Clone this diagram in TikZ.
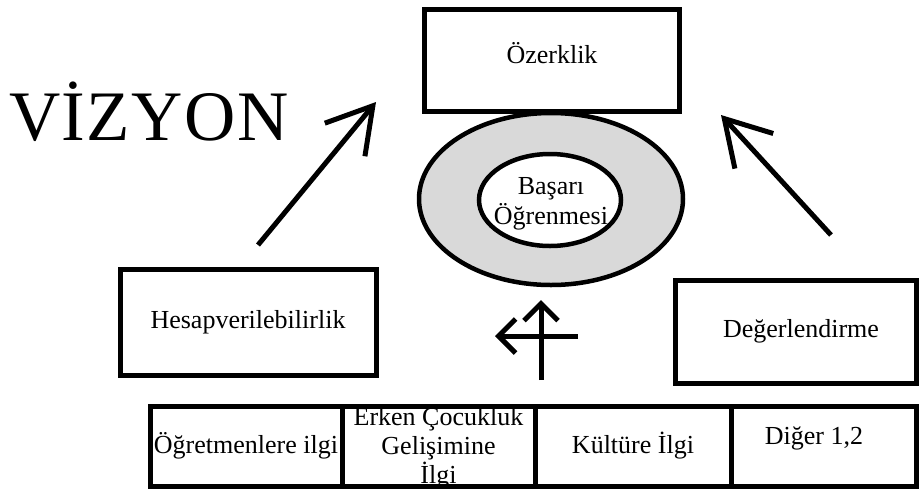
\documentclass[tikz,border=0pt]{standalone}
\usepackage{fontspec}
\setmainfont{Liberation Serif}
\usetikzlibrary{arrows.meta,shapes.geometric}
\definecolor{ringgray}{RGB}{217,217,217}

\tikzset{
  box/.style={draw, line width=5pt, rectangle, inner sep=0pt, align=center,
    font=\fontsize{26}{30}\selectfont},
  cell/.style={box, minimum height=80pt},
  ring/.style={draw, line width=4.5pt, ellipse, inner sep=0pt},
  bigarrow/.style={line width=5pt, -{Straight Barb[length=44pt,width=52pt]}},
  smallarrow/.style={line width=5pt, -{Straight Barb[length=17pt,width=34pt]}},
  plain/.style={inner sep=0pt, align=center, font=\fontsize{26}{30}\selectfont}
}

\begin{document}
\begin{tikzpicture}[x=1pt,y=-1pt]
\useasboundingbox (0,0) rectangle (919,496);

% title
\node[inner sep=0pt, anchor=base west,
  font=\fontsize{71}{71}\selectfont\addfontfeature{LetterSpace=2}] (vizyon) at (9,140) {VİZYON};

% top box
\node[box, minimum width=255pt, minimum height=102pt] (ozerklik) at (552,60) {};
\node[plain] (ozerkliktext) at (552,53) {Özerklik};

% nested ellipses
\node[ring, fill=ringgray, minimum width=264pt, minimum height=172pt] (outer) at (551,199) {};
\node[ring, fill=white, minimum width=142pt, minimum height=92pt] (inner) at (550,200) {};
\node[plain] (innertext) at (551,204) {Başarı\\Öğrenmesi};

% side boxes
\node[box, minimum width=256pt, minimum height=106pt] (hesap) at (248,322) {Hesapverilebilirlik};
\node[box, minimum width=241pt, minimum height=103pt] (deger) at (795.5,331.5) {};
\node[plain] (degertext) at (801,331) {Değerlendirme};

% bottom row
\node[cell, minimum width=192pt] (c1) at (246,446) {Öğretmenlere ilgi};
\node[cell, minimum width=193pt] (c2) at (438.5,446) {};
\node[plain, font=\fontsize{26}{29}\selectfont] (c2text) at (438.5,448) {Erken Çocukluk\\Gelişimine\\İlgi};
\node[cell, minimum width=196pt] (c3) at (633,446) {Kültüre İlgi};
\node[cell, minimum width=185pt] (c4) at (823.5,446) {};
\node[plain] (c4text) at (814,438) {Diğer 1,2};

% arrow end points
\coordinate (la0) at (258,245);
\coordinate (la1) at (376,102);
\coordinate (ra0) at (831,235);
\coordinate (ra1) at (721,115);
\coordinate (va0) at (541,380);
\coordinate (va1) at (541,300);
\coordinate (ha0) at (578,336);
\coordinate (ha1) at (495,336);

\draw[bigarrow] (la0) -- (la1);
\draw[bigarrow] (ra0) -- (ra1);
\draw[smallarrow] (va0) -- (va1);
\draw[smallarrow] (ha0) -- (ha1);
\end{tikzpicture}
\end{document}
